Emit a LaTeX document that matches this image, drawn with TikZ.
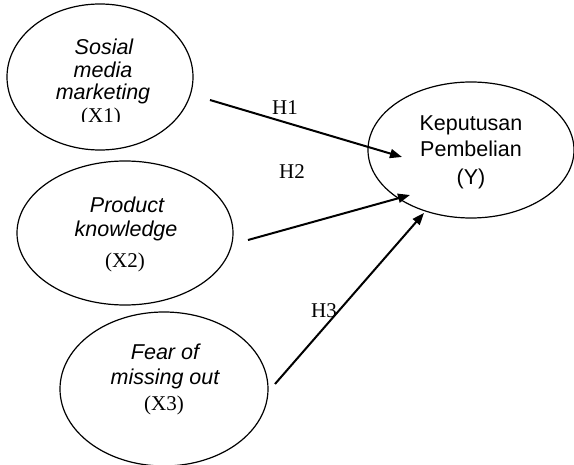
\documentclass[tikz,border=0pt]{standalone}
\usepackage{fontspec}
\setmainfont{Liberation Serif}
\setsansfont{Liberation Sans}
\usetikzlibrary{shapes.geometric,arrows.meta}
\begin{document}
\begin{tikzpicture}[x=1pt,y=-1pt,
  var/.style={draw,ellipse,line width=1.2pt,inner sep=0pt},
  vtext/.style={align=center,inner sep=0pt,anchor=base,font=\fontsize{21.5}{24}\selectfont\sffamily},
  hlabel/.style={inner sep=0pt,anchor=base,font=\fontsize{21}{24}\selectfont\rmfamily},
  path/.style={line width=2pt,-{Triangle[length=12pt,width=9pt]}}]
\useasboundingbox (0,0) rectangle (574,465);
% ellipses
\node[var,minimum width=186pt,minimum height=146pt] (x1) at (100,77) {};
\node[var,minimum width=216pt,minimum height=144pt] (x2) at (125,233) {};
\node[var,minimum width=208pt,minimum height=154pt] (x3) at (164,389) {};
\node[var,minimum width=206pt,minimum height=136pt] (y) at (471,150) {};
% texts
\node[vtext] (t1a) at (104,55) {\itshape Sosial};
\node[vtext] (t1b) at (103,78) {\itshape media};
\node[vtext] (t1c) at (103,100) {\itshape marketing};
\begin{scope}
\clip (0,0) rectangle (574,122);
\node[hlabel] (t1d) at (101,123) {(X1)};
\end{scope}
\node[vtext] (t2a) at (127,213) {\itshape Product};
\node[vtext] (t2b) at (126,237) {\itshape knowledge};
\node[hlabel] (t2c) at (125,268) {(X2)};
\node[vtext] (t3a) at (165,360) {\itshape Fear of};
\node[vtext] (t3b) at (165,385) {\itshape missing out};
\node[hlabel] (t3c) at (164,411) {(X3)};
\node[vtext] (tya) at (471,131) {Keputusan};
\node[vtext] (tyb) at (471,157) {Pembelian};
\node[vtext] (tyc) at (471,185) {(Y)};
% connectors
\coordinate (h1s) at (210,100);
\coordinate (h1e) at (402,157);
\coordinate (h2s) at (248,240);
\coordinate (h2e) at (410,195);
\coordinate (h3s) at (275,384);
\coordinate (h3e) at (424,213);
\draw[path] (h1s) -- (h1e);
\draw[path] (h2s) -- (h2e);
\draw[path] (h3s) -- (h3e);
\node[hlabel] (l1) at (285,115) {H1};
\node[hlabel] (l2) at (292,179) {H2};
\node[hlabel] (l3) at (324,318) {H3};
\end{tikzpicture}
\end{document}
